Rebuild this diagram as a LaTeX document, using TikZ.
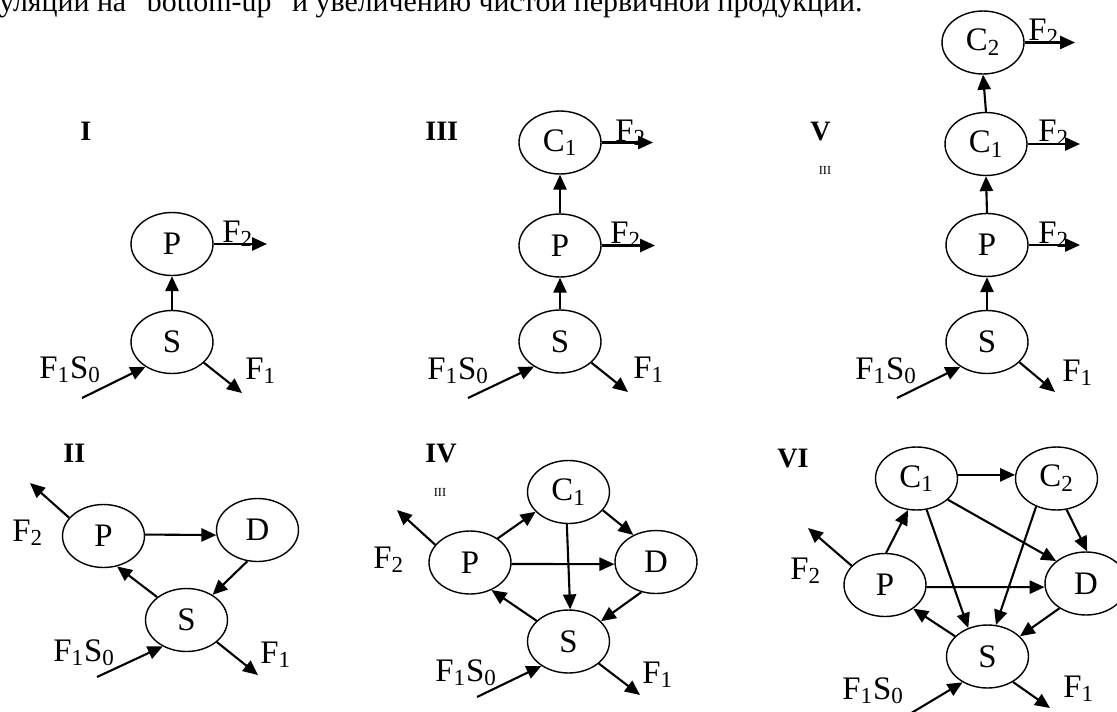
\documentclass[tikz,border=0pt]{standalone}
\usepackage{fontspec}
\setmainfont{Liberation Serif}
\usetikzlibrary{shapes.geometric,arrows.meta}
\begin{document}
\begin{tikzpicture}[x=0.02cm, y=-0.02cm,
    every node/.style={font=\fontsize{18.7}{22}\selectfont},
    box/.style={ellipse, draw, line width=0.8pt, minimum width=1.64cm, minimum height=1.26cm, inner sep=0pt},
    flow/.style={line width=1.2pt, -{Triangle[length=8.5pt,width=7.5pt]}},
    lab/.style={anchor=base west, inner sep=0pt},
    num/.style={anchor=base west, inner sep=0pt, font=\fontsize{16}{19}\selectfont\bfseries},
    tiny/.style={inner sep=0pt, font=\fontsize{7}{8}\selectfont}]
    \useasboundingbox (0,0) rectangle (1117,711);
    \clip (0,0) rectangle (1117,711);
    \node[lab, font=\fontsize{17}{20}\selectfont] (head) at (-1,11) {уляции на “bottom-up” и увеличению чистой первичной продукции.};

    \node[num] (tI) at (80,140) {I};
    \node[box] (pI) at (172,244) {P};
    \node[box] (sI) at (172,342) {S};
    \coordinate (oI) at (267,244);
    \coordinate (inI) at (82,398);
    \coordinate (outI) at (242,393);
    \node[lab] (lf2I) at (222,242) {F\textsubscript{2}};
    \node[lab] (linI) at (39,378) {F\textsubscript{1}S\textsubscript{0}};
    \node[lab] (lf1I) at (245,379) {F\textsubscript{1}};
    \draw[flow] (sI) -- (pI);
    \draw[flow] (pI.east) -- (oI);
    \draw[flow] (inI) -- (sI.223);
    \draw[flow] (sI.327) -- (outI);

    \node[num] (tIII) at (425,140) {III};
    \node[box] (c1III) at (560,142.5) {C\textsubscript{1}};
    \node[box] (pIII) at (560,245.5) {P};
    \node[box] (sIII) at (560,341.5) {S};
    \coordinate (oc1III) at (653,142.5);
    \coordinate (opIII) at (655,245.5);
    \coordinate (inIII) at (468,398);
    \coordinate (outIII) at (628,392);
    \node[lab] (lf2aIII) at (615,141) {F\textsubscript{2}};
    \node[lab] (lf2bIII) at (610,243) {F\textsubscript{2}};
    \node[lab] (linIII) at (427,379) {F\textsubscript{1}S\textsubscript{0}};
    \node[lab] (lf1III) at (633,378) {F\textsubscript{1}};
    \draw[flow] (sIII) -- (pIII);
    \draw[flow] (pIII) -- (c1III);
    \draw[flow] (c1III.east) -- (oc1III);
    \draw[flow] (pIII.east) -- (opIII);
    \draw[flow] (inIII) -- (sIII.224);
    \draw[flow] (sIII.326) -- (outIII);

    \node[num] (tV) at (810,140) {V};
    \node[tiny] (mV) at (825,170) {III};
    \node[box] (c2V) at (983,42.5) {C\textsubscript{2}};
    \node[box] (c1V) at (986,144) {C\textsubscript{1}};
    \node[box] (pV) at (987,245) {P};
    \node[box] (sV) at (987,342) {S};
    \coordinate (oc2V) at (1075,42.5);
    \coordinate (oc1V) at (1080,144);
    \coordinate (opV) at (1080,245);
    \coordinate (inV) at (897,398);
    \coordinate (outV) at (1055,392);
    \node[lab] (lf2aV) at (1028,40) {F\textsubscript{2}};
    \node[lab] (lf2bV) at (1038,141) {F\textsubscript{2}};
    \node[lab] (lf2cV) at (1038,243) {F\textsubscript{2}};
    \node[lab] (linV) at (855,379) {F\textsubscript{1}S\textsubscript{0}};
    \node[lab] (lf1V) at (1062,381) {F\textsubscript{1}};
    \draw[flow] (sV) -- (pV);
    \draw[flow] (pV.north) -- (c1V.south);
    \draw[flow] (c1V.north) -- (c2V.south);
    \draw[flow] (c2V.east) -- (oc2V);
    \draw[flow] (c1V.east) -- (oc1V);
    \draw[flow] (pV.east) -- (opV);
    \draw[flow] (inV) -- (sV.223);
    \draw[flow] (sV.328) -- (outV);

    \node[num] (tII) at (63,462) {II};
    \node[box] (pII) at (103.5,536) {P};
    \node[box] (dII) at (257.5,530) {D};
    \node[box] (sII) at (186.5,620) {S};
    \coordinate (opII) at (30,483);
    \coordinate (inII) at (97,677);
    \coordinate (outII) at (258,675);
    \node[lab] (lf2II) at (12,541) {F\textsubscript{2}};
    \node[lab] (linII) at (53,661) {F\textsubscript{1}S\textsubscript{0}};
    \node[lab] (lf1II) at (260,663) {F\textsubscript{1}};
    \draw[flow] (pII.152) -- (opII);
    \draw[flow] (pII.2) -- (dII.187);
    \draw[flow] (dII.252) -- (sII.44);
    \draw[flow] (sII.142) -- (pII.294);
    \draw[flow] (inII) -- (sII.228);
    \draw[flow] (sII.324) -- (outII);

    \node[num] (tIV) at (425,462) {IV};
    \node[tiny] (mIV) at (440,492) {III};
    \node[box] (c1IV) at (568.5,492) {C\textsubscript{1}};
    \node[box] (pIV) at (470,562.5) {P};
    \node[box] (dIV) at (656,562) {D};
    \node[box] (sIV) at (568.5,641.5) {S};
    \coordinate (opIV) at (397,510);
    \coordinate (inIV) at (477,697);
    \coordinate (outIV) at (640,695);
    \node[lab] (lf2IV) at (373,568) {F\textsubscript{2}};
    \node[lab] (linIV) at (435,681) {F\textsubscript{1}S\textsubscript{0}};
    \node[lab] (lf1IV) at (642,683) {F\textsubscript{1}};
    \draw[flow] (pIV.153) -- (opIV);
    \draw[flow] (pIV.41) -- (c1IV.211);
    \draw[flow] (c1IV.332) -- (dIV.130);
    \draw[flow] (c1IV.267) -- (sIV.87);
    \draw[flow] (pIV.358) -- (dIV.183);
    \draw[flow] (dIV.244) -- (sIV.32);
    \draw[flow] (sIV.147) -- (pIV.308);
    \draw[flow] (inIV) -- (sIV.222);
    \draw[flow] (sIV.324) -- (outIV);

    \node[num] (tVI) at (777,467) {VI};
    \node[box] (c1VI) at (916.5,478.5) {C\textsubscript{1}};
    \node[box] (c2VI) at (1056.5,478.5) {C\textsubscript{2}};
    \node[box] (pVI) at (885,585) {P};
    \node[box] (dVI) at (1086,583.5) {D};
    \node[box] (sVI) at (987.5,656.5) {S};
    \coordinate (opVI) at (808,528);
    \coordinate (inVI) at (903,718);
    \coordinate (outVI) at (1050,708);
    \node[lab] (lf2VI) at (790,579) {F\textsubscript{2}};
    \node[lab] (linVI) at (842,699) {F\textsubscript{1}S\textsubscript{0}};
    \node[lab] (lf1VI) at (1063,697) {F\textsubscript{1}};
    \draw[flow] (pVI.150) -- (opVI);
    \draw[flow] (pVI.88) -- (c1VI.255);
    \draw[flow] (c1VI.5) -- (c2VI.175);
    \draw[flow] (c1VI.326) -- (dVI.143);
    \draw[flow] (c1VI.288) -- (sVI.124);
    \draw[flow] (c2VI.288) -- (dVI.88);
    \draw[flow] (c2VI.234) -- (sVI.75);
    \draw[flow] (pVI.357) -- (dVI.185);
    \draw[flow] (dVI.223) -- (sVI.32);
    \draw[flow] (sVI.148) -- (pVI.320);
    \draw[flow] (inVI) -- (sVI.226);
    \draw[flow] (sVI.315) -- (outVI);
\end{tikzpicture}
\end{document}
